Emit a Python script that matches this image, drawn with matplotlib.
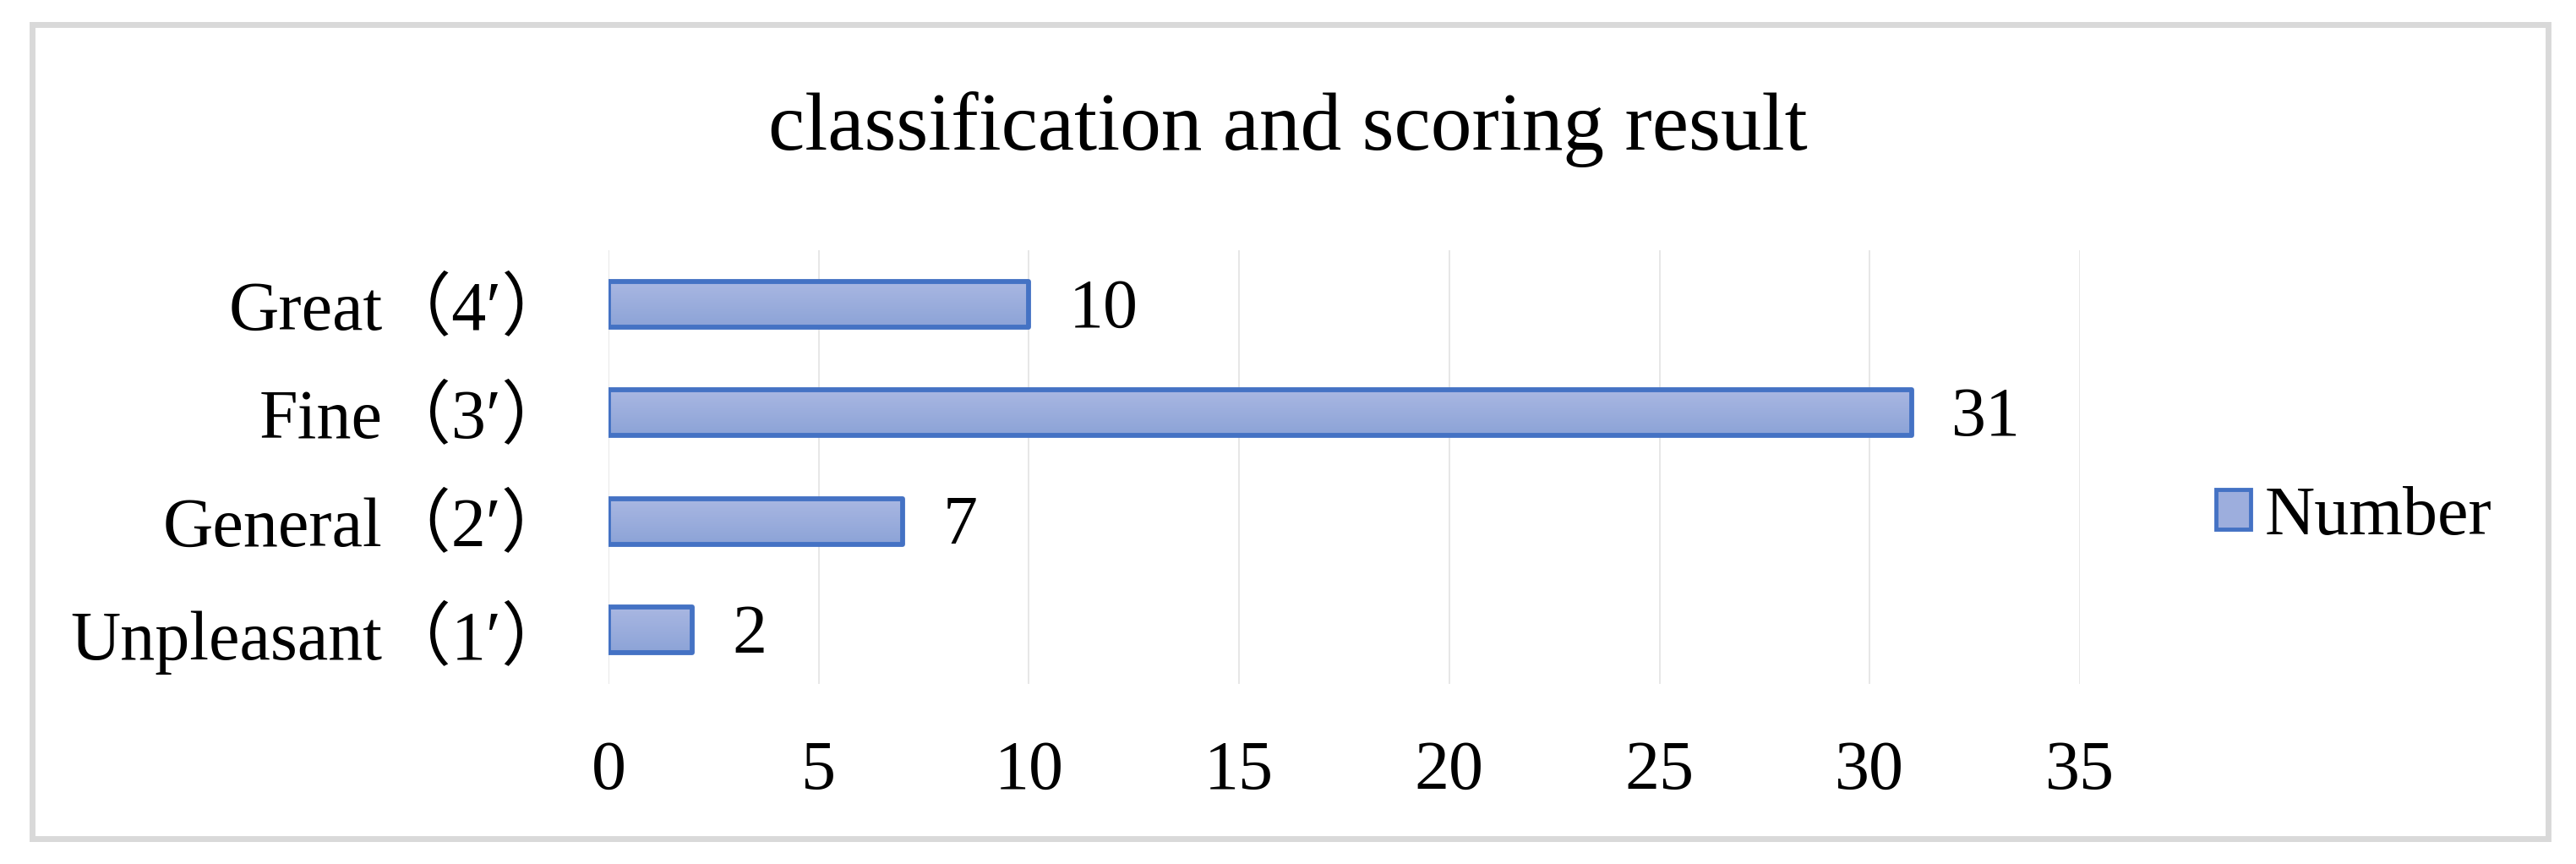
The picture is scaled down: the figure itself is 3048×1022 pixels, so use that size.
import numpy as np
import matplotlib.pyplot as plt
from matplotlib.patches import Rectangle, Patch

categories = ['Unpleasant（1′）', 'General（2′）', 'Fine（3′）', 'Great（4′）']
values = [2, 7, 31, 10]
x_ticks = [0, 5, 10, 15, 20, 25, 30, 35]
title = 'classification and scoring result'
series_name = 'Number'

W, H = 3048, 1022
fonts = ['Liberation Serif', 'Noto Sans CJK SC', 'DejaVu Sans']
plt.rcParams['font.family'] = fonts

fig = plt.figure(figsize=(W / 100, H / 100), dpi=100)
ax = fig.add_axes([720 / W, 1 - 809 / H, (2461 - 720) / W, (809 - 296) / H])

edge = '#4472C4'
top_col = np.array([0xA9, 0xB7, 0xE2]) / 255
bot_col = np.array([0x8C, 0xA3, 0xD7]) / 255
grad = np.linspace(0, 1, 64)[:, None, None]
grad_img = top_col * (1 - grad) + bot_col * grad

ypos = np.arange(len(categories))
bars = ax.barh(ypos, values, height=0.42, color='none', edgecolor=edge,
               linewidth=4.2, zorder=3)
for b in bars:
    x0, y0 = b.get_x(), b.get_y()
    w, h = b.get_width(), b.get_height()
    im = ax.imshow(grad_img, extent=[x0, x0 + w, y0, y0 + h], origin='upper',
                   aspect='auto', zorder=2)
    im.set_clip_path(b)
    b.set_joinstyle('round')

for y, v in zip(ypos, values):
    ax.annotate(str(v), (v, y), xytext=(34, -5), textcoords='offset points',
                va='center', ha='left', fontsize=59, family=fonts)

ax.set_xlim(0, 35)
ax.set_ylim(-0.5, len(categories) - 0.5)
ax.set_xticks(x_ticks)
ax.set_yticks(ypos)
ax.set_yticklabels(categories)
ax.tick_params(axis='both', length=0, labelsize=59)
ax.tick_params(axis='x', pad=48)
ax.tick_params(axis='y', pad=32)
ax.grid(axis='x', color='#E3E3E3', linewidth=1.2, zorder=0)
ax.set_axisbelow(True)
for s in ax.spines.values():
    s.set_visible(False)

fig.text(0.5, 1 - 177 / H, title, ha='center', va='baseline', fontsize=70)

handle = Patch(facecolor='#9DAEDD', edgecolor=edge, linewidth=3.5)
fig.legend([handle], [series_name], loc='center left',
           bbox_to_anchor=(2622 / W, 1 - 612 / H), frameon=False,
           fontsize=59, handlelength=0.5, handleheight=0.5,
           handletextpad=0.2, borderpad=0, borderaxespad=0)

fig.patches.append(Rectangle((37.5 / W, 30.5 / H), (3014.5 - 37.5) / W,
                             (992.5 - 30.5) / H, transform=fig.transFigure,
                             fill=False, edgecolor='#D9D9D9', linewidth=5))

fig.savefig('out.png', dpi=100)
